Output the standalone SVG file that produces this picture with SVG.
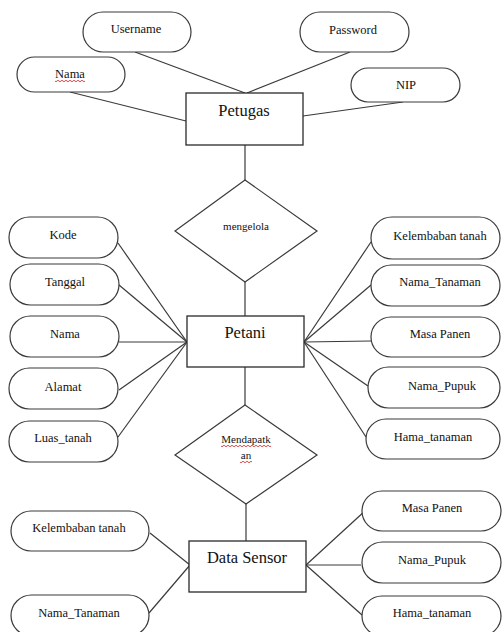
<svg xmlns="http://www.w3.org/2000/svg" width="502" height="632" viewBox="0 0 502 632">
  <defs>
    <style>
      .attr { fill: #ffffff; stroke: #3a3a3a; stroke-width: 1.2; }
      .ent { fill: #ffffff; stroke: #2a2a2a; stroke-width: 1.3; }
      .rel { fill: #ffffff; stroke: #3a3a3a; stroke-width: 1.2; }
      .link { stroke: #3a3a3a; stroke-width: 1.2; fill: none; }
      .spell { stroke: #d02020; stroke-width: 0.8; fill: none; }
      .lbl { font-family: 'Liberation Serif', 'Times New Roman', serif; fill: #111111; text-anchor: middle; }
      .t { font-size: 12.5px; }
      .big { font-size: 16.5px; }
      .small { font-size: 11px; }
    </style>
  </defs>
  <rect x="0" y="0" width="502" height="632" fill="#ffffff"/>

  <!-- connectors -->
  <g id="connectors">
    <line class="link" x1="135" y1="52" x2="245" y2="93"/>
    <line class="link" x1="350" y1="52" x2="247" y2="93"/>
    <line class="link" x1="70" y1="92" x2="186" y2="121"/>
    <line class="link" x1="403" y1="102" x2="303" y2="116"/>
    <line class="link" x1="245" y1="145" x2="245" y2="180"/>
    <line class="link" x1="245" y1="282" x2="245" y2="316"/>
    <line class="link" x1="118" y1="243" x2="187" y2="342"/>
    <line class="link" x1="119" y1="285" x2="187" y2="342"/>
    <line class="link" x1="119" y1="342" x2="187" y2="342"/>
    <line class="link" x1="119" y1="390" x2="187" y2="342"/>
    <line class="link" x1="118" y1="437" x2="187" y2="342"/>
    <line class="link" x1="371" y1="242" x2="304" y2="342"/>
    <line class="link" x1="371" y1="285" x2="304" y2="342"/>
    <line class="link" x1="371" y1="341" x2="304" y2="342"/>
    <line class="link" x1="368" y1="386" x2="304" y2="342"/>
    <line class="link" x1="366" y1="437" x2="304" y2="342"/>
    <line class="link" x1="245" y1="367" x2="245" y2="405"/>
    <line class="link" x1="246" y1="504" x2="246" y2="541"/>
    <line class="link" x1="150" y1="533" x2="190" y2="565"/>
    <line class="link" x1="149" y1="613" x2="190" y2="565"/>
    <line class="link" x1="366" y1="510" x2="306" y2="565"/>
    <line class="link" x1="361" y1="565" x2="306" y2="565"/>
    <line class="link" x1="362" y1="615" x2="306" y2="565"/>
  </g>

  <!-- Petugas entity and attributes -->
  <g id="petugas">
    <rect class="ent" x="186" y="93" width="117" height="52"/>
    <text class="lbl big" x="244" y="116">Petugas</text>
  </g>
  <g id="petugas-username">
    <rect class="attr" x="83" y="12" width="108" height="40" rx="20"/>
    <text class="lbl t" x="136" y="33">Username</text>
  </g>
  <g id="petugas-password">
    <rect class="attr" x="300" y="12" width="109" height="40" rx="20"/>
    <text class="lbl t" x="353" y="34">Password</text>
  </g>
  <g id="petugas-nama">
    <rect class="attr" x="17" y="57" width="108" height="35" rx="17.5"/>
    <text class="lbl t" x="70" y="78">Nama</text>
    <path class="spell" d="M55 81 q1 1.5 2 0 t2 0 t2 0 t2 0 t2 0 t2 0 t2 0 t2 0 t2 0 t2 0 t2 0 t2 0 t2 0 t2 0 t2 0"/>
  </g>
  <g id="petugas-nip">
    <rect class="attr" x="351" y="68" width="109" height="34" rx="17"/>
    <text class="lbl t" x="406" y="89">NIP</text>
  </g>

  <!-- relationship: mengelola -->
  <g id="rel-mengelola">
    <polygon class="rel" points="245,180 317,231 245,282 175,231"/>
    <text class="lbl small" x="246" y="230">mengelola</text>
  </g>

  <!-- Petani entity and attributes -->
  <g id="petani">
    <rect class="ent" x="187" y="316" width="117" height="51"/>
    <text class="lbl big" x="245" y="338">Petani</text>
  </g>
  <g id="petani-kode">
    <rect class="attr" x="9" y="217" width="109" height="41" rx="20.5"/>
    <text class="lbl t" x="63" y="239">Kode</text>
  </g>
  <g id="petani-tanggal">
    <rect class="attr" x="10" y="264" width="109" height="41" rx="20.5"/>
    <text class="lbl t" x="65" y="286">Tanggal</text>
  </g>
  <g id="petani-nama">
    <rect class="attr" x="10" y="316" width="109" height="41" rx="20.5"/>
    <text class="lbl t" x="65" y="338">Nama</text>
  </g>
  <g id="petani-alamat">
    <rect class="attr" x="9" y="368" width="109" height="41" rx="20.5"/>
    <text class="lbl t" x="63" y="391">Alamat</text>
  </g>
  <g id="petani-luas">
    <rect class="attr" x="9" y="421" width="109" height="41" rx="20.5"/>
    <text class="lbl t" x="63" y="442">Luas_tanah</text>
  </g>
  <g id="petani-kelembaban">
    <rect class="attr" x="371" y="217" width="129" height="42" rx="21"/>
    <text class="lbl t" x="440" y="240">Kelembaban tanah</text>
  </g>
  <g id="petani-nama-tanaman">
    <rect class="attr" x="371" y="265" width="129" height="41" rx="20.5"/>
    <text class="lbl t" x="440" y="286">Nama_Tanaman</text>
  </g>
  <g id="petani-masa-panen">
    <rect class="attr" x="371" y="317" width="129" height="40" rx="20"/>
    <text class="lbl t" x="440" y="338">Masa Panen</text>
  </g>
  <g id="petani-nama-pupuk">
    <rect class="attr" x="368" y="367" width="132" height="41" rx="20.5"/>
    <text class="lbl t" x="442" y="390">Nama_Pupuk</text>
  </g>
  <g id="petani-hama">
    <rect class="attr" x="366" y="419" width="134" height="40" rx="20"/>
    <text class="lbl t" x="433" y="441">Hama_tanaman</text>
  </g>

  <!-- relationship: Mendapatkan -->
  <g id="rel-mendapatkan">
    <polygon class="rel" points="245,405 317,455 246,504 175,455"/>
    <text class="lbl small" x="246" y="443">Mendapatk</text>
    <text class="lbl small" x="246" y="459">an</text>
    <path class="spell" d="M221 446 q1 1.5 2 0 t2 0 t2 0 t2 0 t2 0 t2 0 t2 0 t2 0 t2 0 t2 0 t2 0 t2 0 t2 0 t2 0 t2 0 t2 0 t2 0 t2 0 t2 0 t2 0 t2 0 t2 0 t2 0 t2 0 t2 0"/>
    <path class="spell" d="M240 462 q1 1.5 2 0 t2 0 t2 0 t2 0 t2 0 t2 0"/>
  </g>

  <!-- Data Sensor entity and attributes -->
  <g id="data-sensor">
    <rect class="ent" x="189" y="541" width="117" height="51"/>
    <text class="lbl big" x="247" y="563">Data Sensor</text>
  </g>
  <g id="sensor-kelembaban">
    <rect class="attr" x="11" y="511" width="138" height="40" rx="20"/>
    <text class="lbl t" x="79" y="532">Kelembaban tanah</text>
  </g>
  <g id="sensor-nama-tanaman">
    <rect class="attr" x="11" y="595" width="138" height="41" rx="20.5"/>
    <text class="lbl t" x="79" y="617">Nama_Tanaman</text>
  </g>
  <g id="sensor-masa-panen">
    <rect class="attr" x="362" y="491" width="139" height="40" rx="20"/>
    <text class="lbl t" x="432" y="512">Masa Panen</text>
  </g>
  <g id="sensor-nama-pupuk">
    <rect class="attr" x="362" y="542" width="139" height="41" rx="20.5"/>
    <text class="lbl t" x="432" y="564">Nama_Pupuk</text>
  </g>
  <g id="sensor-hama">
    <rect class="attr" x="362" y="596" width="139" height="40" rx="20"/>
    <text class="lbl t" x="432" y="617">Hama_tanaman</text>
  </g>
</svg>
